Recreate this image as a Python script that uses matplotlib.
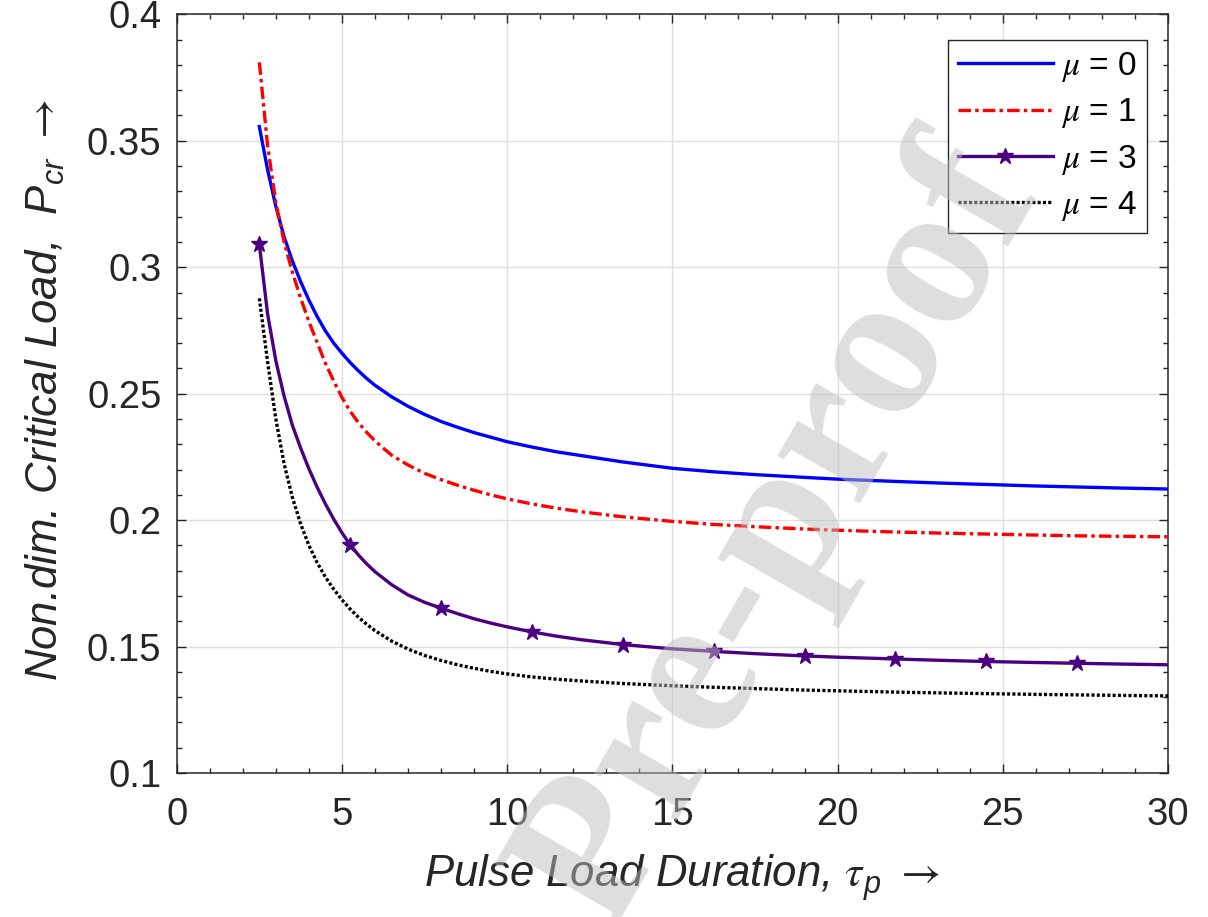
import matplotlib
matplotlib.use("Agg")
import matplotlib.pyplot as plt

plt.rcParams['font.family'] = ['Liberation Sans', 'DejaVu Sans']
plt.rcParams['mathtext.fontset'] = 'custom'
plt.rcParams['mathtext.rm'] = 'Liberation Sans'
plt.rcParams['mathtext.it'] = 'Liberation Sans:italic'
plt.rcParams['mathtext.sf'] = 'STIXGeneral:italic'
plt.rcParams['mathtext.bf'] = 'STIXGeneral'
plt.rcParams['lines.scale_dashes'] = False

# ---- data ----
tau = [2.5, 2.75, 3.0, 3.25, 3.5, 3.75, 4.0, 4.25, 4.5, 4.75, 5.0, 5.25, 5.5, 5.75,
       6.0, 6.5, 7.0, 7.5, 8.0, 8.5, 9.0, 9.5, 10.0, 10.75, 11.5, 12.25, 13.5, 15.0,
       16.25, 17.5, 19.0, 20.0, 21.75, 23.0, 24.5, 26.0, 27.25, 28.5, 30.0]

p_mu0 = [0.3556, 0.3385, 0.3240, 0.3120, 0.3025, 0.2943, 0.2870, 0.2805, 0.2748, 0.2700,
         0.2660, 0.2623, 0.2590, 0.2560, 0.2533, 0.2488, 0.2450, 0.2418, 0.2390, 0.2367,
         0.2346, 0.2328, 0.2310, 0.2289, 0.2270, 0.2255, 0.2230, 0.2205, 0.2191, 0.2180,
         0.2169, 0.2162, 0.2153, 0.2147, 0.2141, 0.2135, 0.2131, 0.2127, 0.2123]

p_mu1 = [0.3810, 0.3480, 0.3255, 0.3100, 0.2980, 0.2878, 0.2785, 0.2702, 0.2620, 0.2550,
         0.2485, 0.2430, 0.2385, 0.2347, 0.2313, 0.2257, 0.2218, 0.2185, 0.2160, 0.2138,
         0.2118, 0.2100, 0.2084, 0.2064, 0.2047, 0.2033, 0.2013, 0.1995, 0.1983, 0.1974,
         0.1965, 0.1960, 0.1953, 0.1949, 0.1945, 0.1941, 0.1938, 0.1936, 0.1934]

p_mu3 = [0.3090, 0.2815, 0.2630, 0.2490, 0.2375, 0.2285, 0.2203, 0.2130, 0.2064, 0.2004,
         0.1950, 0.1902, 0.1862, 0.1827, 0.1796, 0.1745, 0.1704, 0.1675, 0.1652, 0.1630,
         0.1610, 0.1593, 0.1578, 0.1558, 0.1541, 0.1527, 0.1508, 0.1491, 0.1481, 0.1472,
         0.1463, 0.1458, 0.1451, 0.1446, 0.1441, 0.1437, 0.1434, 0.1431, 0.1428]

p_mu4 = [0.2877, 0.2625, 0.2400, 0.2222, 0.2090, 0.1985, 0.1900, 0.1832, 0.1775, 0.1727,
         0.1685, 0.1648, 0.1616, 0.1588, 0.1563, 0.1522, 0.1490, 0.1465, 0.1445, 0.1428,
         0.1414, 0.1402, 0.1392, 0.1380, 0.1371, 0.1364, 0.1354, 0.1345, 0.1339, 0.1334,
         0.1328, 0.1325, 0.1320, 0.1317, 0.1314, 0.1311, 0.1309, 0.1307, 0.1305]

star_tau = [2.5, 5.25, 8.0, 10.75, 13.5, 16.25, 19.0, 21.75, 24.5, 27.25]

labels = [r'$\mathsf{\mu}$ = 0', r'$\mathsf{\mu}$ = 1', r'$\mathsf{\mu}$ = 3',
          r'$\mathsf{\mu}$ = 4']
xticks = [0, 5, 10, 15, 20, 25, 30]
yticks = [0.1, 0.15, 0.2, 0.25, 0.3, 0.35, 0.4]
ytick_labels = ['0.1', '0.15', '0.2', '0.25', '0.3', '0.35', '0.4']

# ---- figure ----
fig = plt.figure(figsize=(12.08, 9.17), dpi=100)
ax = fig.add_axes([0.1463, 0.157, 0.8206, 0.8274])

lw = 2.4
ax.plot(tau, p_mu0, color='#0000ff', lw=lw, label=labels[0], zorder=3)
ax.plot(tau, p_mu1, color='#ff0000', lw=lw, dashes=(9, 3, 2.5, 3),
        dash_capstyle='butt', label=labels[1], zorder=3)
mk_idx = [tau.index(t) for t in star_tau]
ax.plot(tau, p_mu3, color='#4b0082', lw=lw, marker='*', markersize=12,
        markevery=mk_idx, label=labels[2], zorder=3)
ax.plot(tau, p_mu4, color='black', lw=lw, dashes=(2.2, 1.6),
        dash_capstyle='butt', label=labels[3], zorder=3)

ax.set_xlim(0, 30)
ax.set_ylim(0.1, 0.4)
ax.set_xticks(xticks)
ax.set_xticklabels([str(t) for t in xticks])
ax.set_yticks(yticks)
ax.set_yticklabels(ytick_labels)
ax.set_xticks([i for i in range(0, 31) if i % 5 != 0], minor=True)
ax.set_yticks([0.1 + 0.01 * i for i in range(31) if i % 5 != 0], minor=True)

ax.grid(True, which='major', color='#e0e0e0', lw=1.0)
ax.set_axisbelow(True)

for s in ax.spines.values():
    s.set_color('#262626')
    s.set_linewidth(1.1)

ax.tick_params(which='both', direction='in', top=True, right=True,
               color='#262626', width=1.0)
ax.tick_params(which='major', length=6.5)
ax.tick_params(which='minor', length=3.6)
ax.tick_params(axis='x', which='major', labelsize=27.5, pad=17, labelcolor='#262626')
ax.tick_params(axis='y', which='major', labelsize=27.5, pad=11, labelcolor='#262626')

ax.set_xlabel(r'Pulse Load Duration, $\mathsf{\tau}_p$ $\mathbf{\rightarrow}$',
              fontsize=31.5, fontstyle='italic', color='#262626')
ax.set_ylabel(r'Non.dim. Critical Load,  $P_{cr}$ $\mathbf{\rightarrow}$',
              fontsize=31.5, fontstyle='italic', color='#262626')
ax.xaxis.set_label_coords(0.51, -0.104)
ax.yaxis.set_label_coords(-0.111, 0.505)

leg = ax.legend(loc='upper right', bbox_to_anchor=(0.979, 0.966), borderaxespad=0,
                fontsize=24, handlelength=2.85, handletextpad=0.25, labelspacing=0.37,
                borderpad=0.3, fancybox=False, framealpha=1, edgecolor='#262626')
leg.get_frame().set_linewidth(1.0)

fig.text(0.646, 0.418, 'Pre-proof', fontsize=150, fontweight='bold',
         family='Liberation Serif', rotation=60, color='#bebebe', alpha=0.5,
         ha='center', va='center', rotation_mode='anchor', zorder=10)

fig.savefig('out.png', dpi=100)
